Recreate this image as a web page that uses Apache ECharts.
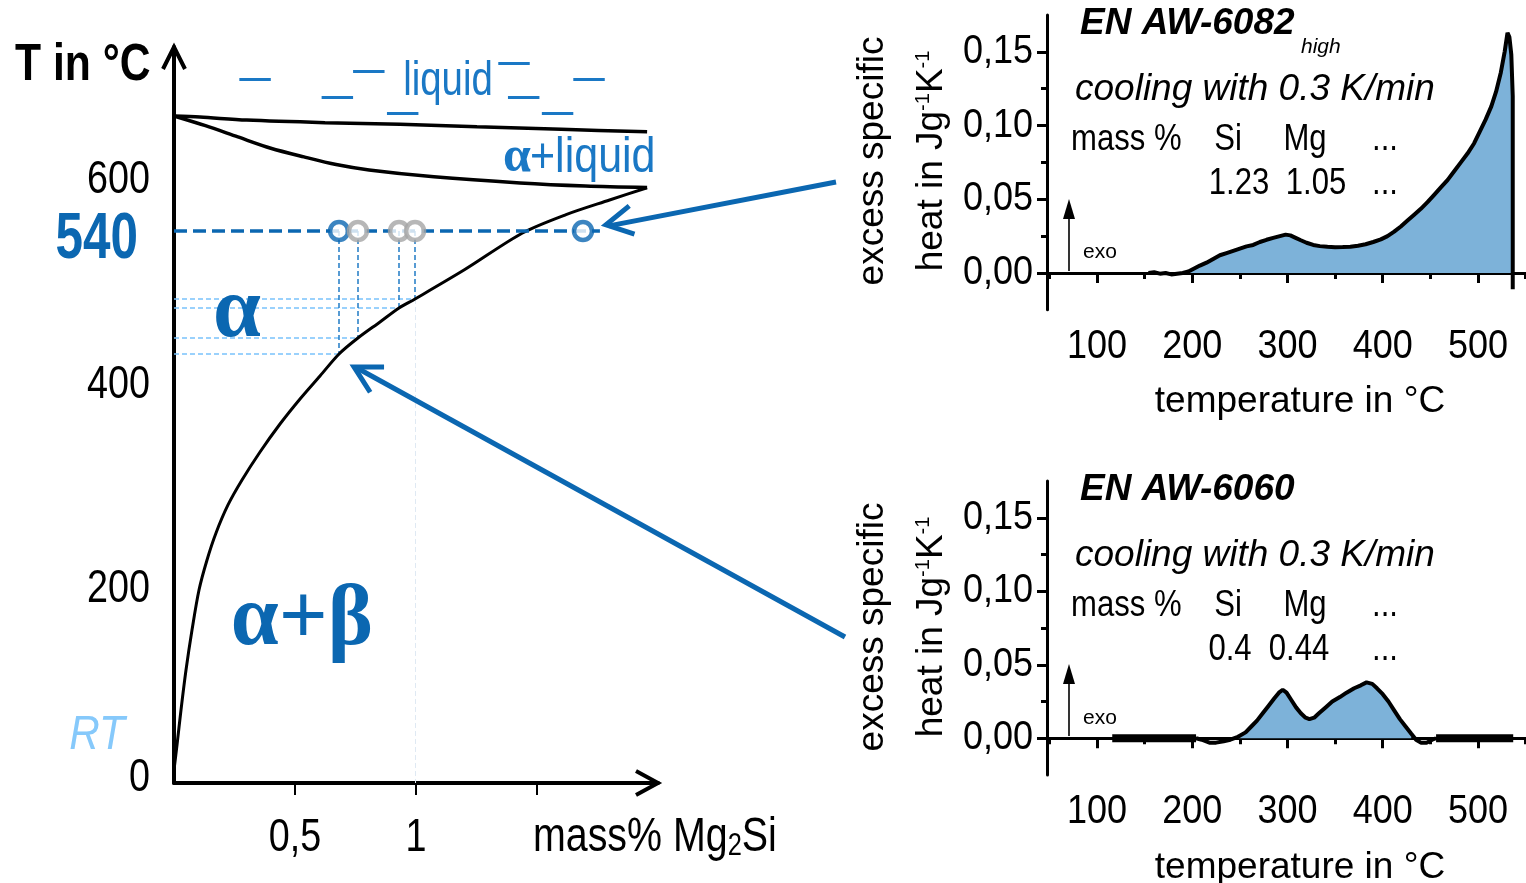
<!DOCTYPE html>
<html>
<head>
<meta charset="utf-8">
<script src="https://cdn.jsdelivr.net/npm/echarts@6/dist/echarts.min.js"></script>
<style>
  html, body { margin: 0; padding: 0; background: #fff; }
  #c { width: 1526px; height: 883px; }
</style>
</head>
<body>
<div id="c"></div>
<script>
// ---------- Al–Mg2Si phase diagram (x: mass% Mg2Si, y: temperature in °C)
const liquidus = [[0, 652.5], [0.107, 651.5], [0.3, 648.5], [0.624, 646], [0.934, 644.5], [1.252, 642], [1.6, 639.5], [1.955, 637]];
const solidus = [[0, 652.5], [0.13, 643], [0.264, 632], [0.4, 621], [0.537, 612.5], [0.67, 605], [0.806, 599.7], [1.074, 593], [1.43, 587], [1.7, 584], [1.955, 582.5]];
const solvus = [[0, 12.7], [0.0124, 37.2], [0.0289, 71.4], [0.0496, 110.5], [0.0744, 149.6], [0.1033, 188.8], [0.1364, 218.2], [0.1736, 244.6], [0.2231, 272], [0.281, 296.4], [0.3554, 323.8], [0.438, 351.2], [0.5207, 375.7], [0.6033, 398.2], [0.682, 419.7], [0.760, 435.3], [0.8512, 451], [0.930, 464.7], [0.996, 473.5], [1.2, 502], [1.44, 538], [1.62, 556], [1.8, 570.3], [1.955, 582.3]];
const isothermT = 540;
const isothermEnd = 1.76;
const alloyX = [0.682, 0.760, 0.930, 0.996];        // alloys whose solvus temperature is marked
const alloyKind = ['blue', 'gray', 'gray', 'gray'];
const outerAlloyX = 1.69;
// short strokes around the "liquid" label: [xStart, xEnd, T]
const liquidDashes = [[0.27, 0.40, 688], [0.61, 0.74, 671], [0.74, 0.87, 696.5], [0.88, 1.01, 655.5], [1.34, 1.47, 704.5], [1.38, 1.51, 671], [1.52, 1.65, 655.5], [1.65, 1.78, 688]];
const phaseXTicks = [0.5, 1, 1.5];
const phaseXLabels = [0.5, 1];
const phaseYLabels = [0, 200, 400, 600];

// ---------- DSC cooling curves (x: temperature in °C, y: excess specific heat in J/(g K))
const dscXLabels = [100, 200, 300, 400, 500];
const dscXMinor = [50, 150, 250, 350, 450, 550];
const dscYLabels = [0, 0.05, 0.10, 0.15];
const dscYMinor = [0.025, 0.075, 0.125];
const dsc6082 = [[154, 0], [160, 0.0005], [166, -0.0005], [172, 0], [178, -0.001], [184, -0.0005], [190, 0], [196, 0.001], [202, 0.003], [208, 0.005], [215, 0.007], [222, 0.0095], [229, 0.012], [236, 0.0135], [243, 0.015], [250, 0.0165], [257, 0.018], [264, 0.019], [271, 0.021], [278, 0.0225], [285, 0.0238], [292, 0.025], [298, 0.026], [303, 0.0255], [308, 0.024], [314, 0.0222], [320, 0.0205], [327, 0.019], [334, 0.0182], [342, 0.0177], [350, 0.0175], [358, 0.0176], [366, 0.0178], [374, 0.0185], [382, 0.0195], [390, 0.021], [398, 0.0228], [405, 0.025], [412, 0.028], [419, 0.0315], [426, 0.0355], [433, 0.0395], [440, 0.0435], [447, 0.048], [454, 0.053], [461, 0.058], [468, 0.063], [475, 0.069], [482, 0.075], [489, 0.081], [496, 0.088], [502, 0.096], [508, 0.104], [514, 0.113], [519, 0.123], [524, 0.136], [528, 0.15], [531, 0.163], [533, 0.16], [535, 0.148], [536.5, 0.12], [536.5, 0], [536.5, -0.011]];
const dsc6060 = [[204, 0], [210, -0.001], [218, -0.003], [225, -0.003], [233, -0.002], [240, -0.001], [248, 0.001], [256, 0.004], [262, 0.008], [268, 0.012], [274, 0.017], [280, 0.022], [286, 0.027], [291, 0.031], [295, 0.033], [299, 0.031], [304, 0.026], [309, 0.021], [314, 0.017], [319, 0.014], [323, 0.013], [328, 0.014], [333, 0.017], [340, 0.021], [347, 0.025], [355, 0.028], [362, 0.031], [370, 0.034], [377, 0.036], [383, 0.038], [389, 0.037], [394, 0.034], [400, 0.030], [406, 0.025], [412, 0.019], [418, 0.013], [424, 0.008], [430, 0.003], [435, -0.001], [440, -0.003], [446, -0.003], [452, -0.001], [456, 0]];
const dsc6060Low = [[116, 0], [204, 0]];
const dsc6060High = [[456, 0], [537, 0]];

// ---------- styling
const SANS = '"Liberation Sans",Arial,sans-serif';
const SERIF = '"Liberation Serif","Times New Roman",serif';
const NARROW_SCALE = 0.82;           // Arial-Narrow-like proportions from Liberation Sans
const BLUE = '#0b67b1';
const LIQ = '#1a78c5';
const FILL = '#7db2d9';

// layout of the three plotting areas
const PH = { left: 174, top: 47, width: 484, height: 736 };
const D1 = { left: 1047, top: 15, width: 478.6, height: 294.8 };
const D2 = { left: 1047, top: 481, width: 478.6, height: 294 };

const solvusAt = x => solvus.find(p => p[0] === x)[1];

function dscAxes(gridIndex) {
  const x = [
    { gridIndex, type: 'value', min: 47.5, max: 550, position: 'bottom',
      axisLine: { lineStyle: { color: '#000', width: 3 } },
      axisTick: { customValues: dscXLabels, length: 10, lineStyle: { color: '#000', width: 3 } },
      axisLabel: { show: false }, splitLine: { show: false } },
    { gridIndex, type: 'value', min: 47.5, max: 550, position: 'bottom',
      axisLine: { show: false },
      axisTick: { customValues: dscXMinor, length: 6, lineStyle: { color: '#000', width: 3 } },
      axisLabel: { show: false }, splitLine: { show: false } }
  ];
  const y = [
    { gridIndex, type: 'value', min: -0.025, max: 0.175, position: 'left',
      axisLine: { lineStyle: { color: '#000', width: 3 } },
      axisTick: { customValues: dscYLabels, length: 10, lineStyle: { color: '#000', width: 3 } },
      axisLabel: { show: false }, splitLine: { show: false } },
    { gridIndex, type: 'value', min: -0.025, max: 0.175, position: 'left',
      axisLine: { show: false },
      axisTick: { customValues: dscYMinor, length: 6, lineStyle: { color: '#000', width: 3 } },
      axisLabel: { show: false }, splitLine: { show: false } }
  ];
  return { x, y };
}
const a1 = dscAxes(1), a2 = dscAxes(2);

const guideH = alloyX.map(x => ({ coords: [[0, solvusAt(x)], [x, solvusAt(x)]] }));
const guideV = alloyX.map(x => ({ coords: [[x, isothermT], [x, solvusAt(x)]] }));
const lastX = alloyX[alloyX.length - 1];

const circles = alloyX.map((x, i) => ({ value: [x, isothermT], kind: alloyKind[i] }))
  .concat([{ value: [outerAlloyX, isothermT], kind: 'blue' }])
  .map(d => ({
    value: d.value,
    symbolSize: 18,
    itemStyle: { color: '#fff', borderColor: d.kind === 'blue' ? BLUE : '#a5a5a5', borderWidth: 4.5 }
  }));
// gray circles drawn above the blue ones
circles.sort((a, b) => (a.itemStyle.borderColor === BLUE ? 0 : 1) - (b.itemStyle.borderColor === BLUE ? 0 : 1));

const curveLine = (data, xi, yi, width) => ({
  type: 'line', xAxisIndex: xi, yAxisIndex: yi, data, showSymbol: false, silent: true,
  lineStyle: { color: '#000', width }, z: 5
});

const option = {
  backgroundColor: '#fff',
  animation: false,
  grid: [
    { left: PH.left, top: PH.top, width: PH.width, height: PH.height },
    { left: D1.left, top: D1.top, width: D1.width, height: D1.height },
    { left: D2.left, top: D2.top, width: D2.width, height: D2.height }
  ],
  xAxis: [
    { gridIndex: 0, type: 'value', min: 0, max: 2,
      axisLine: { lineStyle: { color: '#000', width: 4 } },
      axisTick: { customValues: phaseXTicks, length: 12, lineStyle: { color: '#000', width: 2 } },
      axisLabel: { show: false }, splitLine: { show: false } },
    a1.x[0], a1.x[1], a2.x[0], a2.x[1]
  ],
  yAxis: [
    { gridIndex: 0, type: 'value', min: 0, max: 720,
      axisLine: { lineStyle: { color: '#000', width: 4 } },
      axisTick: { show: false }, axisLabel: { show: false }, splitLine: { show: false } },
    a1.y[0], a1.y[1], a2.y[0], a2.y[1]
  ],
  series: [
    // phase boundaries
    Object.assign(curveLine(liquidus, 0, 0, 3.5), { smooth: 0.3 }),
    Object.assign(curveLine(solidus, 0, 0, 3.5), { smooth: 0.3 }),
    Object.assign(curveLine(solvus, 0, 0, 3), { smooth: 0.3 }),
    { type: 'lines', coordinateSystem: 'cartesian2d', xAxisIndex: 0, yAxisIndex: 0, silent: true,
      data: liquidDashes.map(d => ({ coords: [[d[0], d[2]], [d[1], d[2]]] })),
      lineStyle: { color: LIQ, width: 3, opacity: 1 } },
    // read-off guides from the solvus to the temperature axis
    { type: 'lines', coordinateSystem: 'cartesian2d', xAxisIndex: 0, yAxisIndex: 0, silent: true,
      data: guideH, lineStyle: { color: '#79c2fb', width: 1.5, type: [5, 3], opacity: 1 } },
    { type: 'lines', coordinateSystem: 'cartesian2d', xAxisIndex: 0, yAxisIndex: 0, silent: true,
      data: guideV, lineStyle: { color: '#1f7ac4', width: 1.5, type: [5, 3], opacity: 1 } },
    { type: 'lines', coordinateSystem: 'cartesian2d', xAxisIndex: 0, yAxisIndex: 0, silent: true,
      data: [{ coords: [[lastX, solvusAt(lastX)], [lastX, 0]] }],
      lineStyle: { color: '#dfe9f3', width: 1, type: [5, 3], opacity: 1 } },
    // 540 °C isotherm
    { type: 'line', xAxisIndex: 0, yAxisIndex: 0, silent: true, showSymbol: false,
      data: [[0, isothermT], [isothermEnd, isothermT]],
      lineStyle: { color: BLUE, width: 3.5, type: [13, 6] }, z: 6 },
    { type: 'scatter', xAxisIndex: 0, yAxisIndex: 0, silent: true, symbol: 'circle', data: circles, z: 8 },

    // EN AW-6082
    { type: 'line', xAxisIndex: 1, yAxisIndex: 1, silent: true, showSymbol: false,
      data: [[50, 0], [548, 0]], lineStyle: { color: '#000', width: 1.3, type: [2, 6] }, z: 2 },
    { type: 'line', xAxisIndex: 1, yAxisIndex: 1, silent: true, showSymbol: false,
      data: dsc6082.filter(p => p[0] >= 190 && p[1] >= 0),
      lineStyle: { width: 0 }, areaStyle: { color: FILL, opacity: 1, origin: 0 }, z: 3 },
    curveLine(dsc6082, 1, 1, 4),

    // EN AW-6060
    { type: 'line', xAxisIndex: 3, yAxisIndex: 3, silent: true, showSymbol: false,
      data: [[50, 0], [548, 0]], lineStyle: { color: '#000', width: 1.3, type: [2, 6] }, z: 2 },
    { type: 'line', xAxisIndex: 3, yAxisIndex: 3, silent: true, showSymbol: false,
      data: dsc6060.filter(p => p[0] >= 248 && p[0] <= 434),
      lineStyle: { width: 0 }, areaStyle: { color: FILL, opacity: 1, origin: 0 }, z: 3 },
    curveLine(dsc6060, 3, 3, 4),
    curveLine(dsc6060Low, 3, 3, 8),
    curveLine(dsc6060High, 3, 3, 8)
  ]
};
const chart = echarts.init(document.getElementById('c'));
chart.setOption(option);

// ---------- annotations, tick labels and titles
const toPx = p => chart.convertToPixel({ xAxisIndex: 0, yAxisIndex: 0 }, p);
const xPx = (i, v) => chart.convertToPixel({ xAxisIndex: i }, v);
const yPx = (i, v) => chart.convertToPixel({ yAxisIndex: i }, v);

function chevron(tip, tail, len, half) {
  const dx = tail[0] - tip[0], dy = tail[1] - tip[1];
  const L = Math.hypot(dx, dy), ux = dx / L, uy = dy / L;
  const c = Math.cos(half), s = Math.sin(half);
  return [[tip[0] + len * (ux * c - uy * s), tip[1] + len * (ux * s + uy * c)], tip,
          [tip[0] + len * (ux * c + uy * s), tip[1] + len * (-ux * s + uy * c)]];
}
function pointer(tip, tail) {
  return [
    { type: 'line', shape: { x1: tail[0], y1: tail[1], x2: tip[0] + 3, y2: tip[1] + 1 }, style: { stroke: BLUE, lineWidth: 5 }, z: 50 },
    { type: 'polyline', shape: { points: chevron(tip, tail, 30, 0.5) }, style: { stroke: BLUE, lineWidth: 5, fill: null, lineJoin: 'miter' }, z: 50 }
  ];
}
// text element; sx squeezes the glyphs horizontally
function txt(x, y, text, font, sx) {
  return { type: 'text', x, y, z: 60, silent: true, scaleX: sx || 1,
    style: Object.assign({ text, fill: '#000', align: 'left', verticalAlign: 'middle', fontFamily: SANS }, font) };
}
function exo(x, yBase, yTip, labelY) {
  return [
    { type: 'line', shape: { x1: x, y1: yBase, x2: x, y2: yTip + 16 }, style: { stroke: '#000', lineWidth: 1.6 }, z: 50 },
    { type: 'polygon', shape: { points: [[x, yTip], [x - 6, yTip + 20], [x + 6, yTip + 20]] }, style: { fill: '#000' }, z: 50 },
    txt(x + 14, labelY, 'exo', { fontSize: 21 })
  ];
}
function dscTexts(d, xi, yi, title, sub, si, mg) {
  const t = d.top;
  const N = 0.84;
  const out = [
    txt(1080, t + 9, title, { fontSize: 37, fontWeight: 'bold', fontStyle: 'italic' }),
    txt(1075, t + 75, 'cooling with 0.3 K/min', { fontSize: 37, fontStyle: 'italic' }),
    txt(1071, t + 125, 'mass %', { fontSize: 37 }, N),
    txt(1228, t + 125, 'Si', { fontSize: 37, align: 'center' }, N),
    txt(1305, t + 125, 'Mg', { fontSize: 37, align: 'center' }, N),
    txt(1385, t + 125, '...', { fontSize: 37, align: 'center' }, N),
    txt(si[1], t + 169, si[0], { fontSize: 37, align: 'center' }, N),
    txt(mg[1], t + 169, mg[0], { fontSize: 37, align: 'center' }, N),
    txt(1385, t + 169, '...', { fontSize: 37, align: 'center' }, N),
    Object.assign(txt(873, t + 146, 'excess specific', { fontSize: 37, align: 'center' }), { rotation: Math.PI / 2 }),
    { type: 'text', x: 932, y: t + 146, rotation: Math.PI / 2, z: 60, silent: true,
      style: { text: '{a|heat in Jg}{s|-1}{a|K}{s|-1}', align: 'center', verticalAlign: 'middle',
               rich: { a: { fontSize: 37, fontFamily: SANS, fill: '#000' },
                       s: { fontSize: 20, fontFamily: SANS, fill: '#000', verticalAlign: 'top' } } } },
    txt(1300, t + 387, 'temperature in °C', { fontSize: 37, align: 'center' })
  ];
  if (sub) out.push(txt(1301, t + 32, sub, { fontSize: 21, fontStyle: 'italic' }));
  const yBottom = yPx(yi, -0.025);
  dscXLabels.forEach(v => out.push(txt(xPx(xi, v), yBottom + 37, String(v), { fontSize: 40, align: 'center' }, 0.9)));
  dscYLabels.forEach(v => out.push(txt(d.left - 14, yPx(yi, v), v.toFixed(2).replace('.', ','), { fontSize: 40, align: 'right' }, 0.9)));
  return out;
}

const phaseLabels = [];
phaseYLabels.forEach(v => phaseLabels.push(
  txt(150, yPx(0, v) + (v === 0 ? -5 : 11), String(v), { fontSize: 46, align: 'right' }, NARROW_SCALE)));
phaseXLabels.forEach(v => phaseLabels.push(
  txt(xPx(0, v), PH.top + PH.height + 55, String(v).replace('.', ','), { fontSize: 46, align: 'center' }, NARROW_SCALE)));

const graphics = [
  // axis arrow heads of the phase diagram
  { type: 'polyline', shape: { points: [[PH.left - 11, PH.top + 22], [PH.left, PH.top], [PH.left + 11, PH.top + 22]] },
    style: { stroke: '#000', lineWidth: 4, fill: null }, z: 40 },
  { type: 'polyline', shape: { points: [[PH.left + PH.width - 22, PH.top + PH.height - 12], [PH.left + PH.width, PH.top + PH.height], [PH.left + PH.width - 22, PH.top + PH.height + 12]] },
    style: { stroke: '#000', lineWidth: 4, fill: null }, z: 40 },
  // phase-diagram labels
  txt(15, 66, 'T in °C', { fontSize: 52, fontWeight: 'bold' }, NARROW_SCALE),
  txt(138, 240, '540', { fontSize: 65, fontWeight: 'bold', fill: BLUE, align: 'right' }, 0.76),
  txt(97, 736, 'RT', { fontSize: 48, fontStyle: 'italic', fill: '#86c9fb', align: 'center' }, 0.88),
  txt(237, 314, 'α', { fontSize: 86, fontFamily: SERIF, fontWeight: 'bold', fill: BLUE, align: 'center' }),
  txt(302, 622, 'α+β', { fontSize: 86, fontFamily: SERIF, fontWeight: 'bold', fill: BLUE, align: 'center' }),
  txt(448, 82, 'liquid', { fontSize: 48, fill: LIQ, align: 'center' }, 0.8),
  txt(531, 158, 'α', { fontSize: 50, fontFamily: SERIF, fontWeight: 'bold', fill: LIQ, align: 'right' }),
  txt(530, 158, '+liquid', { fontSize: 50, fill: LIQ }, 0.86),
  { type: 'text', x: 533, y: 838, z: 60, silent: true, scaleX: NARROW_SCALE,
    style: { text: '{a|mass% Mg}{s|2}{a|Si}', align: 'left', verticalAlign: 'middle',
             rich: { a: { fontSize: 48, fontFamily: SANS, fill: '#000' },
                     s: { fontSize: 31, fontFamily: SANS, fill: '#000', verticalAlign: 'bottom' } } } }
]
  .concat(phaseLabels)
  .concat(pointer(toPx([1.785, 546]), [836, 182]))
  .concat(pointer(toPx([0.744, 407]), [845, 637]))
  .concat(exo(1069, 271, 199, 252))
  .concat(exo(1069, 736, 664, 718))
  .concat(dscTexts(D1, 1, 1, 'EN AW-6082', 'high', ['1.23', 1239], ['1.05', 1316]))
  .concat(dscTexts(D2, 3, 3, 'EN AW-6060', null, ['0.4', 1230], ['0.44', 1299]));

chart.setOption({ graphic: { elements: graphics } });
</script>
</body>
</html>
